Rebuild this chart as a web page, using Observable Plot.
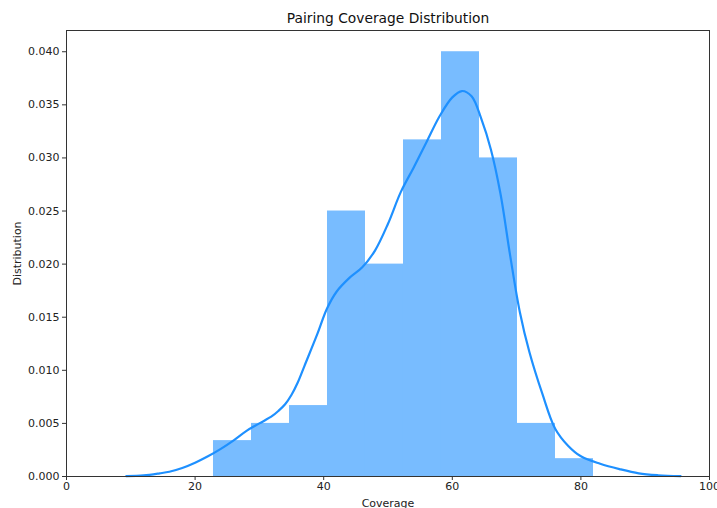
<!DOCTYPE html>
<html>
<head>
<meta charset="utf-8">
<script src="https://cdn.jsdelivr.net/npm/d3@7"></script>
<script src="https://cdn.jsdelivr.net/npm/@observablehq/plot@0.6"></script>
<style>
  html, body { margin: 0; padding: 0; background: #fff; }
</style>
</head>
<body>
<div id="chart"></div>
<script>
// Histogram bins (Coverage) and their density heights
const binEdges = [22.86, 28.77, 34.68, 40.59, 46.50, 52.41, 58.32, 64.23, 70.14, 76.05, 81.96];
const binDensity = [0.00338, 0.00500, 0.00668, 0.02500, 0.02000, 0.03170, 0.04000, 0.03000, 0.00500, 0.00168];

// KDE curve
const kdeX = [9.3, 12, 14.5, 16, 18, 20, 22, 24, 26, 28, 30, 32, 33, 34, 35, 36, 37, 39, 40.5, 42, 44, 46, 48, 50, 52, 54, 56, 58, 60, 61.5, 63, 64.5, 66, 67.5, 69, 70.5, 72, 74, 76, 78, 80, 83, 86, 89, 92, 95.5];
const kdeY = [0.00003, 0.0001, 0.0003, 0.00045, 0.0008, 0.0013, 0.0019, 0.0026, 0.0034, 0.0043, 0.0050, 0.0057, 0.0062, 0.0068, 0.0077, 0.0089, 0.0104, 0.0134, 0.0158, 0.0174, 0.0187, 0.0197, 0.0213, 0.0238, 0.0268, 0.0291, 0.0315, 0.0339, 0.0357, 0.0363, 0.0358, 0.0337, 0.0308, 0.0266, 0.0208, 0.0155, 0.0117, 0.0078, 0.0045, 0.0029, 0.0019, 0.0012, 0.0007, 0.0003, 0.00012, 0.00003];

const xTicks = [0, 20, 40, 60, 80, 100];
const yTicks = [0, 0.005, 0.010, 0.015, 0.020, 0.025, 0.030, 0.035, 0.040];

const titleText = "Pairing Coverage Distribution";
const xLabel = "Coverage";
const yLabel = "Distribution";

const bins = binDensity.map((d, i) => ({x1: binEdges[i], x2: binEdges[i + 1], y: d}));
const kde = kdeX.map((x, i) => ({x, y: kdeY[i]}));

const chart = Plot.plot({
  width: 717,
  height: 508,
  marginLeft: 66,
  marginRight: 8,
  marginTop: 30,
  marginBottom: 32,
  style: {fontFamily: "DejaVu Sans", fontSize: "11px", color: "#222", background: "#fff"},
  x: {domain: [0, 100]},
  y: {domain: [0, 0.042]},
  marks: [
    Plot.rectY(bins, {x1: "x1", x2: "x2", y: "y", fill: "#78bcff", inset: 0}),
    Plot.line(kde, {x: "x", y: "y", stroke: "#1e90ff", strokeWidth: 2.2, curve: "catmull-rom"}),
    Plot.frame({stroke: "#333", strokeWidth: 1}),
    Plot.axisX({ticks: xTicks, tickSize: 4, tickPadding: 2, tickFormat: d3.format("d"), label: xLabel, labelAnchor: "center", labelArrow: "none", labelOffset: 30, fontSize: 11, stroke: "#333"}),
    Plot.axisY({ticks: yTicks, tickSize: 4, tickPadding: 3, tickFormat: d3.format(".3f"), label: yLabel, labelAnchor: "center", labelArrow: "none", labelOffset: 53, fontSize: 11, stroke: "#333"}),
    Plot.text([titleText], {frameAnchor: "top", dy: -8, lineAnchor: "bottom", fontSize: 13.8, fill: "#111"})
  ]
});
document.getElementById("chart").appendChild(chart);
</script>
</body>
</html>
